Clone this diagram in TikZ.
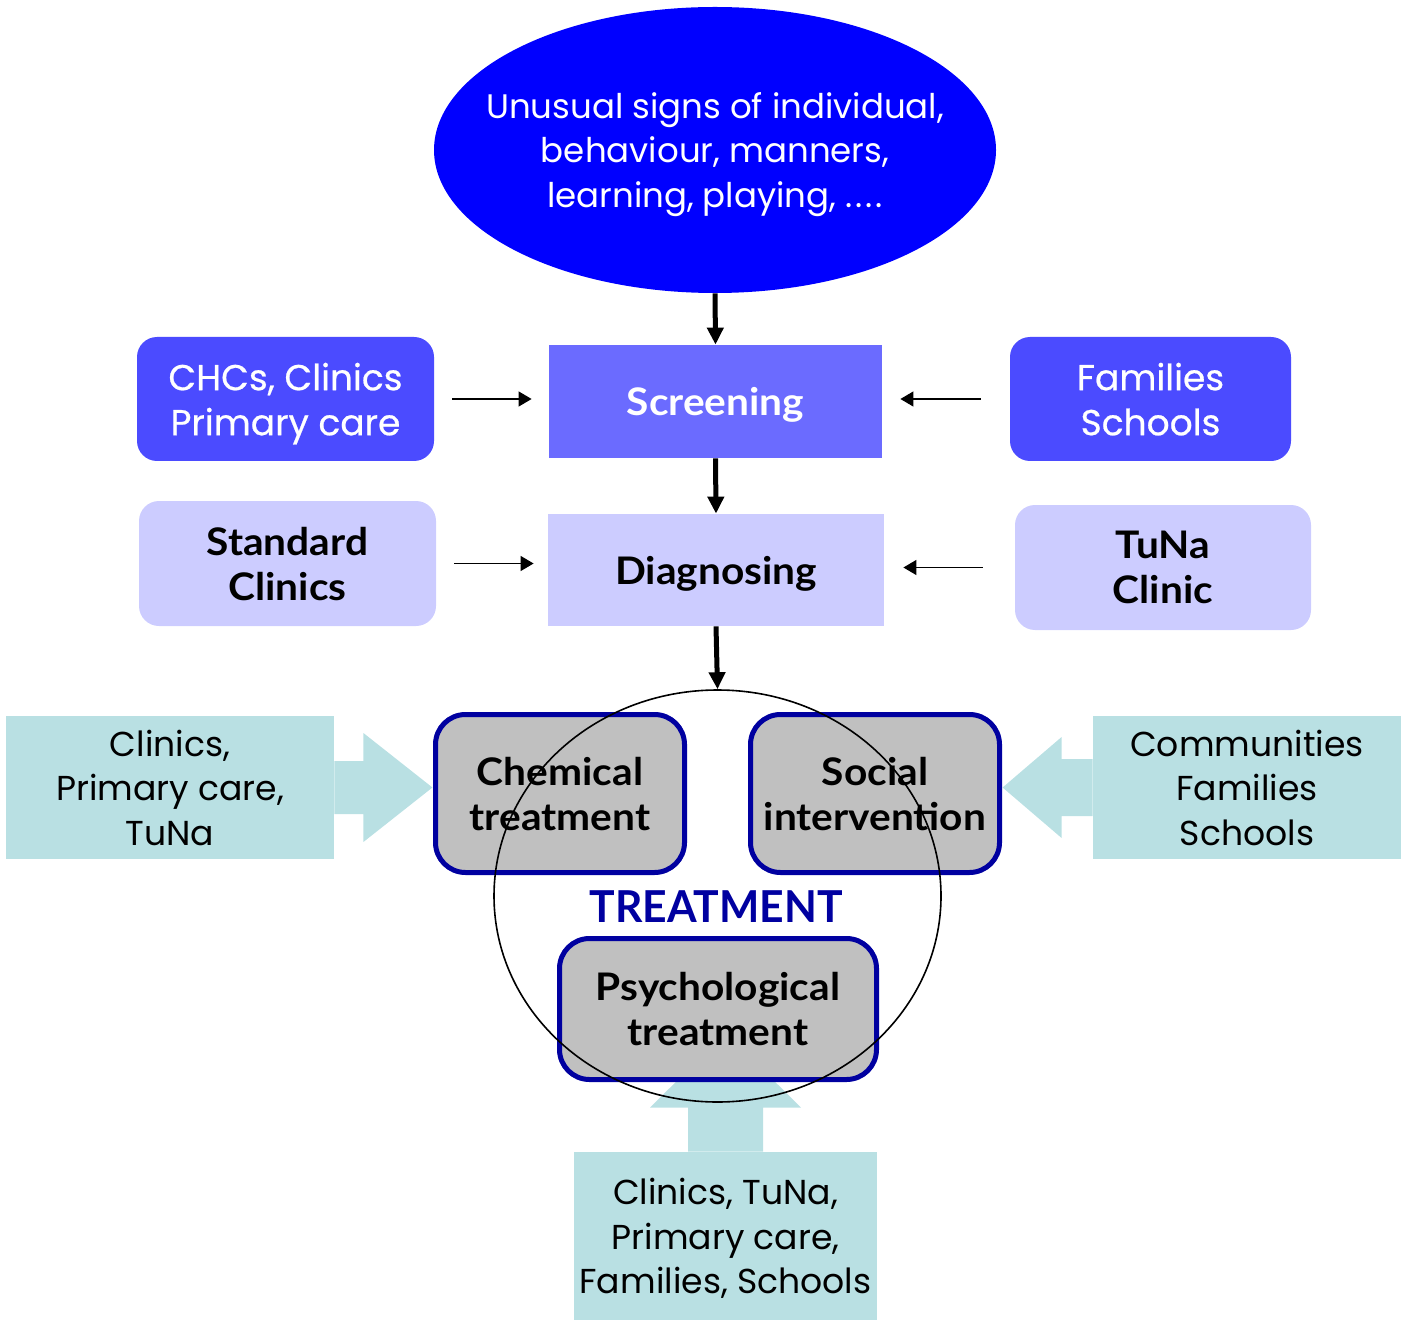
\documentclass[tikz,border=0pt]{standalone}
\usepackage{fontspec}
\usepackage{tikz}
\usetikzlibrary{shapes.geometric,arrows.meta}

\setmainfont{Poppins}
\newfontfamily\medfont[FakeBold=0.6]{Poppins}
\newfontfamily\headfont[FakeStretch=1.07]{Lato}
\newfontfamily\condfont[FakeStretch=0.97]{Lato}

\definecolor{signblue}{HTML}{0000FF}
\definecolor{screenblue}{HTML}{6B6BFF}
\definecolor{srcblue}{HTML}{4B4BFF}
\definecolor{paleblue}{HTML}{CCCCFF}
\definecolor{navy}{HTML}{0000A0}
\definecolor{boxgrey}{HTML}{C0C0C0}
\definecolor{aqua}{HTML}{B9E0E3}

\tikzset{
    stagebox/.style={rectangle, inner sep=0pt, align=center, text depth=0pt,
        font=\headfont\bfseries\fontsize{19}{22.5}\selectfont},
    sourcebox/.style={rectangle, rounded corners=10pt, inner sep=0pt, align=center,
        text depth=0pt},
    treatbox/.style={rectangle, rounded corners=15pt, draw=navy, line width=2.5pt,
        fill=boxgrey, inner sep=0pt, align=center, text depth=0pt,
        font=\headfont\bfseries\fontsize{19}{22.5}\selectfont},
    helpbox/.style={rectangle, fill=aqua, inner sep=0pt, align=center, text depth=0pt,
        font=\fontsize{17.3}{22.25}\selectfont},
    flow/.style={line width=2.5pt, -{Triangle[width=8pt,length=8.5pt]}},
    feed/.style={line width=0.6pt, -{Triangle[width=7.5pt,length=6.5pt]}}
}

\begin{document}
\begin{tikzpicture}[x=0.5pt,y=-0.5pt]  % one unit = one pixel of the layout, y downwards
    \useasboundingbox (0,0) rectangle (1401,1320);

    % Helpers in the aqua boxes, with their fat arrows
    \node[helpbox, minimum width=164pt, minimum height=71.5pt] (lhelp) at (170,787.5)
        {Clinics,\\Primary care,\\TuNa};
    \node[helpbox, minimum width=154pt, minimum height=71.5pt] (rhelp) at (1247,787.5)
        {Communities\\Families\\Schools};
    \node[helpbox, minimum width=151.5pt, minimum height=84pt] (bhelp) at (725.5,1236)
        {Clinics, TuNa,\\Primary care,\\Families, Schools};

    \fill[aqua] ([yshift=13.25pt]lhelp.east) -- ++(14.5pt,0) -- ++(0,14pt)
        -- ([xshift=49pt]lhelp.east) -- ([xshift=14.5pt,yshift=-27.25pt]lhelp.east)
        -- ++(0,14pt) -- ([yshift=-13.25pt]lhelp.east) -- cycle;
    \fill[aqua] ([yshift=14.25pt]rhelp.west) -- ++(-15.5pt,0) -- ++(0,11pt)
        -- ([xshift=-45pt]rhelp.west) -- ([xshift=-15.5pt,yshift=-25.25pt]rhelp.west)
        -- ++(0,11pt) -- ([yshift=-14.25pt]rhelp.west) -- cycle;
    \fill[aqua] ([xshift=-18.75pt]bhelp.north) -- ++(0,22pt) -- ++(-19pt,0)
        -- ([yshift=59.5pt]bhelp.north) -- ([xshift=37.75pt,yshift=22pt]bhelp.north)
        -- ++(-19pt,0) -- ([xshift=18.75pt]bhelp.north) -- cycle;

    % Top ellipse
    \node[ellipse, fill=signblue, minimum width=281pt, minimum height=143pt, inner sep=0pt]
        (signs) at (715,150) {};
    \node[text=white, align=center, text depth=0pt, font=\fontsize{17}{22.25}\selectfont]
        (signtext) at (signs.center)
        {Unusual signs of individual,\\behaviour, manners,\\learning, playing, .\kern1.5pt.\kern1.5pt.\kern1.5pt.};

    % Screening and diagnosing steps
    \node[stagebox, fill=screenblue, text=white, minimum width=166.5pt, minimum height=56.5pt]
        (screen) at (715.5,401.5) {Screening};
    \node[stagebox, fill=paleblue, minimum width=168pt, minimum height=56pt]
        (diag) at (716,570) {Diagnosing};

    % Who does it
    \node[sourcebox, fill=srcblue, text=white, minimum width=148.5pt, minimum height=62pt,
        font=\medfont\fontsize{18}{22.5}\selectfont] (chcs) at (285.5,399)
        {CHCs, Clinics\\Primary care};
    \node[sourcebox, fill=srcblue, text=white, minimum width=140.5pt, minimum height=62pt,
        font=\medfont\fontsize{18}{22.5}\selectfont] (fam) at (1150.5,399)
        {Families\\Schools};
    \node[sourcebox, fill=paleblue, minimum width=148.5pt, minimum height=62.5pt,
        font=\headfont\bfseries\fontsize{19}{22.5}\selectfont] (std) at (287.5,563.5)
        {Standard\\Clinics};
    \node[sourcebox, fill=paleblue, minimum width=148pt, minimum height=62.5pt,
        font=\headfont\bfseries\fontsize{19}{22.5}\selectfont] (tuna) at (1163,567.5)
        {TuNa\\Clinic};

    % Treatment boxes
    \node[treatbox, minimum width=124.5pt, minimum height=79pt] (chem) at (560,793.5)
        {Chemical\\treatment};
    \node[treatbox, minimum width=124.5pt, minimum height=79pt] (social) at (875,793.5)
        {Social\\intervention};
    \node[treatbox, minimum width=158.5pt, minimum height=70.5pt] (psych) at (718,1009)
        {Psychological\\treatment};
    \node[text=navy, text depth=0pt, font=\condfont\bfseries\fontsize{22}{22}\selectfont]
        (label) at (716,907) {TREATMENT};

    % The circle round the treatments
    \node[ellipse, draw, line width=0.8pt, minimum width=223.5pt, minimum height=206pt,
        inner sep=0pt] (treat) at (717.5,896) {};

    % Main flow
    \draw[flow] (signs.south) -- (screen.north);
    \draw[flow] (screen.south) -- (diag.north);
    \draw[flow] (diag.south) -- (treat.north);

    % Side arrows
    \draw[feed, shorten <=9pt, shorten >=8.5pt] (chcs.east) -- (chcs.east -| screen.west);
    \draw[feed, shorten <=14.5pt, shorten >=9pt] (fam.west) -- (fam.west -| screen.east);
    \draw[feed, shorten <=9pt, shorten >=7pt] (std.east) -- (std.east -| diag.west);
    \draw[feed, shorten <=16pt, shorten >=9.5pt] (tuna.west) -- (tuna.west -| diag.east);

\end{tikzpicture}
\end{document}
